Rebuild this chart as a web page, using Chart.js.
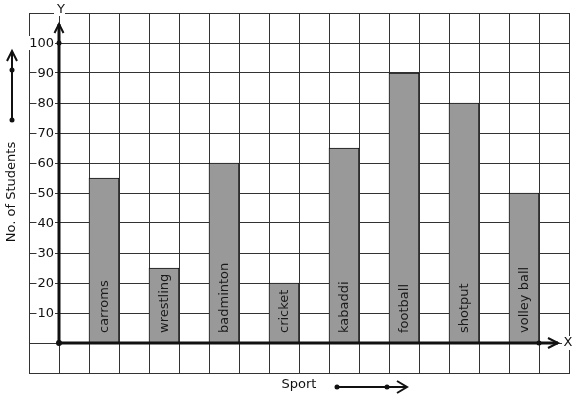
<!DOCTYPE html>
<html>
<head>
<meta charset="utf-8">
<script src="https://cdn.jsdelivr.net/npm/chart.js@4"></script>
<style>
  html, body { margin: 0; padding: 0; background: #fff; }
  canvas { display: block; }
</style>
</head>
<body>
<canvas id="chart" width="577" height="399"></canvas>
<script>
// data
const sports = ["carroms", "wrestling", "badminton", "cricket", "kabaddi", "football", "shotput", "volley ball"];
const students = [55, 25, 60, 20, 65, 90, 80, 50];
const yTicks = [10, 20, 30, 40, 50, 60, 70, 80, 90, 100];

// grid paper: 18 columns, bars sit on every second column after the y axis
const COLS = 18;
const slots = new Array(COLS).fill(null);
const slotNames = new Array(COLS).fill("");
sports.forEach((s, i) => {
    slots[2 + 2 * i] = students[i];
    slotNames[2 + 2 * i] = s;
});

const FONT = "13px 'DejaVu Sans'";
const INK = "#111";

function arrowHead(ctx, tipX, tipY, dir, len, half) {
    // dir: "up" or "right"
    ctx.beginPath();
    if (dir === "up") {
        ctx.moveTo(tipX - half, tipY + len);
        ctx.lineTo(tipX, tipY);
        ctx.lineTo(tipX + half, tipY + len);
    } else {
        ctx.moveTo(tipX - len, tipY - half);
        ctx.lineTo(tipX, tipY);
        ctx.lineTo(tipX - len, tipY + half);
    }
    ctx.stroke();
}

function dot(ctx, x, y, r) {
    ctx.beginPath();
    ctx.arc(x, y, r, 0, Math.PI * 2);
    ctx.fill();
}

const graphPaper = {
    id: "graphPaper",
    afterDraw(chart) {
        const ctx = chart.ctx;
        const xs = chart.scales.x;
        const ys = chart.scales.y;
        const ox = Math.round((xs.getPixelForValue(0) + xs.getPixelForValue(1)) / 2);
        const oy = Math.round(ys.getPixelForValue(0));

        ctx.save();
        ctx.fillStyle = INK;
        ctx.strokeStyle = INK;
        ctx.font = FONT;

        // y tick labels with white backing over the grid lines
        ctx.textAlign = "right";
        ctx.textBaseline = "middle";
        yTicks.forEach(v => {
            const py = ys.getPixelForValue(v);
            const t = String(v);
            const w = ctx.measureText(t).width;
            ctx.fillStyle = "#fff";
            ctx.fillRect(ox - 5 - w - 1, py - 7, w + 2, 14);
            ctx.fillStyle = INK;
            ctx.fillText(t, ox - 5, py + 1);
        });

        // sport names written up inside the bars
        const meta = chart.getDatasetMeta(0);
        ctx.textAlign = "left";
        ctx.fillStyle = "#1a1a1a";
        meta.data.forEach((bar, i) => {
            if (slots[i] === null) return;
            ctx.save();
            ctx.translate(bar.x + 1, oy - 10);
            ctx.rotate(-Math.PI / 2);
            ctx.fillText(slotNames[i], 0, 0);
            ctx.restore();
        });
        ctx.fillStyle = INK;

        // y axis
        ctx.lineWidth = 3;
        const yTop = oy - 319;
        ctx.beginPath();
        ctx.moveTo(ox, oy);
        ctx.lineTo(ox, yTop);
        ctx.stroke();
        ctx.lineWidth = 2;
        arrowHead(ctx, ox, yTop, "up", 9, 4.5);
        dot(ctx, ox, ys.getPixelForValue(100), 2.5);

        // x axis
        ctx.lineWidth = 3;
        const xEnd = ox + 499;
        ctx.beginPath();
        ctx.moveTo(ox, oy);
        ctx.lineTo(xEnd, oy);
        ctx.stroke();
        ctx.lineWidth = 2;
        arrowHead(ctx, xEnd, oy, "right", 10, 5);
        dot(ctx, ox, oy, 3);
        dot(ctx, Math.round(xs.getPixelForValue(16) + 15), oy, 2.5);

        // axis letters
        ctx.textAlign = "center";
        ctx.fillStyle = "#fff";
        ctx.fillRect(ox - 5, 2, 11, 14);
        ctx.fillRect(xEnd + 4, oy - 7, 12, 14);
        ctx.fillStyle = INK;
        ctx.fillText("Y", ox + 2, 10);
        ctx.fillText("X", xEnd + 10, oy);

        // y title with arrow
        ctx.save();
        ctx.translate(12, 192);
        ctx.rotate(-Math.PI / 2);
        ctx.fillText("No. of Students", 0, 0);
        ctx.restore();
        ctx.lineWidth = 2;
        ctx.beginPath();
        ctx.moveTo(12, 120);
        ctx.lineTo(12, 51);
        ctx.stroke();
        arrowHead(ctx, 12, 51, "up", 10, 5);
        dot(ctx, 12, 70, 2.5);
        dot(ctx, 12, 120, 2.5);

        // x title with arrow
        ctx.fillText("Sport", 299, 385);
        ctx.beginPath();
        ctx.moveTo(337, 387);
        ctx.lineTo(407, 387);
        ctx.stroke();
        arrowHead(ctx, 407, 387, "right", 10, 6);
        dot(ctx, 337, 387, 2.5);
        dot(ctx, 387, 387, 2.5);

        ctx.restore();
    }
};

new Chart(document.getElementById("chart"), {
    type: "bar",
    data: {
        labels: slotNames,
        datasets: [{
            data: slots,
            backgroundColor: "#999999",
            borderColor: "#111",
            borderWidth: 1,
            barPercentage: 1,
            categoryPercentage: 1
        }]
    },
    options: {
        responsive: false,
        animation: false,
        layout: { padding: { left: 29, right: 8, top: 13, bottom: 26 } },
        plugins: { legend: { display: false }, tooltip: { enabled: false } },
        scales: {
            x: {
                offset: true,
                grid: { offset: true, color: "#333", lineWidth: 1, drawTicks: false },
                border: { display: true, color: "#333", width: 1 },
                ticks: { display: false }
            },
            y: {
                min: -10,
                max: 110,
                grid: { color: "#333", lineWidth: 1, drawTicks: false },
                border: { display: true, color: "#333", width: 1 },
                ticks: { display: false, stepSize: 10 }
            }
        }
    },
    plugins: [graphPaper]
});
</script>
</body>
</html>
